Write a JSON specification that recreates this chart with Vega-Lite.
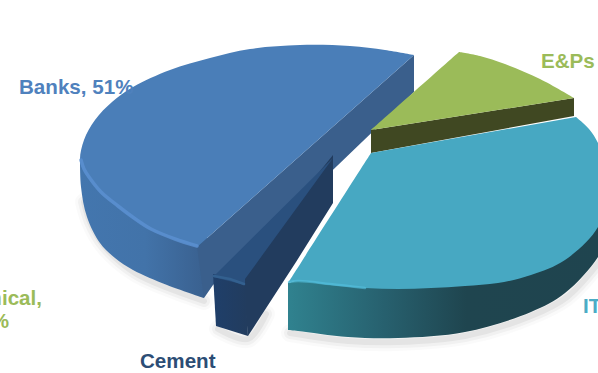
{
"$schema":"https://vega.github.io/schema/vega-lite/v6.json",
"width":598,"height":373,"padding":0,"autosize":"none",
"background":"white",
"view":{"stroke":null},
"datasets":{
"outline":[
{"face":"shadow","part":"banks","i":1,"x":84,"y":202},{"face":"shadow","part":"banks","i":2,"x":90,"y":222},{"face":"shadow","part":"banks","i":3,"x":104,"y":246},{"face":"shadow","part":"banks","i":4,"x":135,"y":273},{"face":"shadow","part":"banks","i":5,"x":168,"y":288},{"face":"shadow","part":"banks","i":6,"x":204,"y":301},
{"face":"shadow","part":"cement","i":1,"x":218,"y":329},{"face":"shadow","part":"cement","i":2,"x":248,"y":339},{"face":"shadow","part":"cement","i":3,"x":266,"y":314},
{"face":"shadow","part":"it","i":1,"x":290,"y":333},{"face":"shadow","part":"it","i":2,"x":348,"y":341},{"face":"shadow","part":"it","i":3,"x":398,"y":342},{"face":"shadow","part":"it","i":4,"x":465,"y":336},{"face":"shadow","part":"it","i":5,"x":531,"y":316},{"face":"shadow","part":"it","i":6,"x":567,"y":297},{"face":"shadow","part":"it","i":7,"x":600,"y":261},

{"face":"banksSide","i":1,"x":80,"y":160},{"face":"banksSide","i":2,"x":81,"y":187},{"face":"banksSide","i":3,"x":87,"y":217},{"face":"banksSide","i":4,"x":100,"y":243},{"face":"banksSide","i":5,"x":115,"y":258},{"face":"banksSide","i":6,"x":133,"y":270},{"face":"banksSide","i":7,"x":167,"y":285},{"face":"banksSide","i":8,"x":204,"y":298},{"face":"banksSide","i":9,"x":204,"y":298},{"face":"banksSide","i":10,"x":210,"y":240},{"face":"banksSide","i":11,"x":210,"y":240},{"face":"banksSide","i":12,"x":110,"y":170},

{"face":"banksCut","i":1,"x":197,"y":247},{"face":"banksCut","i":2,"x":414,"y":55},{"face":"banksCut","i":3,"x":414,"y":92},{"face":"banksCut","i":4,"x":213,"y":285},{"face":"banksCut","i":5,"x":204,"y":298},

{"face":"banksTop","i":1,"x":414,"y":55},{"face":"banksTop","i":2,"x":385,"y":50},{"face":"banksTop","i":3,"x":350,"y":46},{"face":"banksTop","i":4,"x":300,"y":45},{"face":"banksTop","i":5,"x":250,"y":49},{"face":"banksTop","i":6,"x":210,"y":58},{"face":"banksTop","i":7,"x":170,"y":70},{"face":"banksTop","i":8,"x":133,"y":87},{"face":"banksTop","i":9,"x":112,"y":102},{"face":"banksTop","i":10,"x":95,"y":120},{"face":"banksTop","i":11,"x":84,"y":140},{"face":"banksTop","i":12,"x":80,"y":160},{"face":"banksTop","i":13,"x":83,"y":170},{"face":"banksTop","i":14,"x":88,"y":178},{"face":"banksTop","i":15,"x":100,"y":193},{"face":"banksTop","i":16,"x":117,"y":207},{"face":"banksTop","i":17,"x":133,"y":219},{"face":"banksTop","i":18,"x":150,"y":230},{"face":"banksTop","i":19,"x":175,"y":240},{"face":"banksTop","i":20,"x":197,"y":247},

{"face":"banksRim","i":1,"x":81,"y":160},{"face":"banksRim","i":2,"x":84,"y":169},{"face":"banksRim","i":3,"x":89,"y":177},{"face":"banksRim","i":4,"x":101,"y":192},{"face":"banksRim","i":5,"x":118,"y":206},{"face":"banksRim","i":6,"x":134,"y":218},{"face":"banksRim","i":7,"x":151,"y":229},{"face":"banksRim","i":8,"x":175,"y":239},{"face":"banksRim","i":9,"x":197,"y":246},

{"face":"cementInner","i":1,"x":333,"y":155},{"face":"cementInner","i":2,"x":333,"y":203},{"face":"cementInner","i":3,"x":296,"y":262},{"face":"cementInner","i":4,"x":248,"y":336},{"face":"cementInner","i":5,"x":243,"y":284},{"face":"cementInner","i":6,"x":240,"y":270},
{"face":"cementFront","i":1,"x":213,"y":274},{"face":"cementFront","i":2,"x":245,"y":281},{"face":"cementFront","i":3,"x":248,"y":336},{"face":"cementFront","i":4,"x":216,"y":326},
{"face":"cementTop","i":1,"x":333,"y":158},{"face":"cementTop","i":2,"x":245,"y":279},{"face":"cementTop","i":3,"x":245,"y":285},{"face":"cementTop","i":4,"x":213,"y":277},
{"face":"cementRim","i":1,"x":214,"y":276},{"face":"cementRim","i":2,"x":230,"y":279},{"face":"cementRim","i":3,"x":244,"y":284},

{"face":"epCut","i":1,"x":371,"y":130},{"face":"epCut","i":2,"x":574,"y":98},{"face":"epCut","i":3,"x":574,"y":116},{"face":"epCut","i":4,"x":371,"y":153},
{"face":"epTop","i":1,"x":371,"y":130},{"face":"epTop","i":2,"x":459,"y":52},{"face":"epTop","i":3,"x":459,"y":52},{"face":"epTop","i":4,"x":480,"y":56},{"face":"epTop","i":5,"x":505,"y":64},{"face":"epTop","i":6,"x":540,"y":79},{"face":"epTop","i":7,"x":574,"y":98},

{"face":"itSide","i":1,"x":288,"y":283},{"face":"itSide","i":2,"x":288,"y":330},{"face":"itSide","i":3,"x":288,"y":330},{"face":"itSide","i":4,"x":298,"y":331},{"face":"itSide","i":5,"x":348,"y":337},{"face":"itSide","i":6,"x":398,"y":338},{"face":"itSide","i":7,"x":465,"y":332},{"face":"itSide","i":8,"x":531,"y":312},{"face":"itSide","i":9,"x":565,"y":293},{"face":"itSide","i":10,"x":598,"y":257},{"face":"itSide","i":11,"x":612,"y":225},{"face":"itSide","i":12,"x":612,"y":225},{"face":"itSide","i":13,"x":600,"y":190},{"face":"itSide","i":14,"x":400,"y":250},

{"face":"itTop","i":1,"x":576,"y":117},{"face":"itTop","i":2,"x":589,"y":129},{"face":"itTop","i":3,"x":598,"y":143},{"face":"itTop","i":4,"x":606,"y":165},{"face":"itTop","i":5,"x":606,"y":195},{"face":"itTop","i":6,"x":598,"y":227},{"face":"itTop","i":7,"x":565,"y":260},{"face":"itTop","i":8,"x":531,"y":275},{"face":"itTop","i":9,"x":498,"y":283},{"face":"itTop","i":10,"x":465,"y":286},{"face":"itTop","i":11,"x":431,"y":288},{"face":"itTop","i":12,"x":398,"y":289},{"face":"itTop","i":13,"x":365,"y":288},{"face":"itTop","i":14,"x":330,"y":285},{"face":"itTop","i":15,"x":298,"y":281},{"face":"itTop","i":16,"x":288,"y":283},{"face":"itTop","i":17,"x":288,"y":283},{"face":"itTop","i":18,"x":371,"y":153},

{"face":"itRim","i":1,"x":289,"y":282},{"face":"itRim","i":2,"x":298,"y":281},{"face":"itRim","i":3,"x":330,"y":284},{"face":"itRim","i":4,"x":365,"y":288}
],
"labels":[
{"label":"Banks, 51%","x":19,"y":88,"anchor":"Banks"},
{"label":"E&Ps","x":541,"y":62,"anchor":"E&Ps"},
{"label":"IT","x":583,"y":307,"anchor":"IT"},
{"label":"Cement","x":140,"y":362,"anchor":"Cement"}
],
"wrapped":[
{"label":"Chemical,","x":42,"y":299},
{"label":"3%","x":9,"y":322}
]
},
"data":{"name":"outline"},
"encoding":{
"x":{"field":"x","type":"quantitative","scale":{"domain":[0,598],"nice":false,"zero":false},"axis":null},
"y":{"field":"y","type":"quantitative","scale":{"domain":[373,0],"nice":false,"zero":false},"axis":null},
"order":{"field":"i","type":"quantitative"}
},
"layer":[
{"transform":[{"filter":"datum.face==='shadow'"}],"mark":{"type":"line","interpolate":"catmull-rom","stroke":"#000000","strokeWidth":18,"opacity":0.02,"strokeCap":"round","strokeJoin":"round"},"encoding":{"detail":{"field":"part"}}},
{"transform":[{"filter":"datum.face==='shadow'"}],"mark":{"type":"line","interpolate":"catmull-rom","stroke":"#000000","strokeWidth":12,"opacity":0.035,"strokeCap":"round","strokeJoin":"round"},"encoding":{"detail":{"field":"part"}}},
{"transform":[{"filter":"datum.face==='shadow'"}],"mark":{"type":"line","interpolate":"catmull-rom","stroke":"#000000","strokeWidth":6,"opacity":0.05,"strokeCap":"round","strokeJoin":"round"},"encoding":{"detail":{"field":"part"}}},

{"transform":[{"filter":"datum.face==='banksSide'"}],"mark":{"type":"line","interpolate":"catmull-rom","strokeWidth":0,"fill":{"gradient":"linear","x1":0,"y1":0,"x2":1,"y2":0,"stops":[{"offset":0,"color":"#4376ae"},{"offset":0.5,"color":"#4273a9"},{"offset":1,"color":"#395f8d"}]}}},
{"transform":[{"filter":"datum.face==='banksCut'"}],"mark":{"type":"line","strokeWidth":0,"fill":"#3a5f8c"}},
{"transform":[{"filter":"datum.face==='banksTop'"}],"mark":{"type":"line","interpolate":"catmull-rom","strokeWidth":0,"fill":"#4a7eb8"}},
{"transform":[{"filter":"datum.face==='banksRim'"}],"mark":{"type":"line","interpolate":"catmull-rom","stroke":"#5a8fd0","strokeWidth":3.5,"strokeCap":"round","opacity":0.85}},

{"transform":[{"filter":"datum.face==='cementInner'"}],"mark":{"type":"line","strokeWidth":0,"fill":"#223c5e"}},
{"transform":[{"filter":"datum.face==='cementFront'"}],"mark":{"type":"line","strokeWidth":0,"fill":{"gradient":"linear","x1":0,"y1":0,"x2":1,"y2":0,"stops":[{"offset":0,"color":"#1f3f6a"},{"offset":1,"color":"#223c5e"}]}}},
{"transform":[{"filter":"datum.face==='cementTop'"}],"mark":{"type":"line","strokeWidth":0,"fill":"#2a507e"}},
{"transform":[{"filter":"datum.face==='cementRim'"}],"mark":{"type":"line","stroke":"#33608f","strokeWidth":2.5,"strokeCap":"round"}},

{"transform":[{"filter":"datum.face==='epCut'"}],"mark":{"type":"line","strokeWidth":0,"fill":"#404822"}},
{"transform":[{"filter":"datum.face==='epTop'"}],"mark":{"type":"line","interpolate":"catmull-rom","strokeWidth":0,"fill":"#9bbb59"}},

{"transform":[{"filter":"datum.face==='itSide'"}],"mark":{"type":"line","interpolate":"catmull-rom","strokeWidth":0,"fill":{"gradient":"linear","x1":0,"y1":0,"x2":1,"y2":0,"stops":[{"offset":0,"color":"#30828f"},{"offset":0.3,"color":"#27606e"},{"offset":0.55,"color":"#1f454f"},{"offset":1,"color":"#1f444f"}]}}},
{"transform":[{"filter":"datum.face==='itTop'"}],"mark":{"type":"line","interpolate":"catmull-rom","strokeWidth":0,"fill":"#47a8c2"}},
{"transform":[{"filter":"datum.face==='itRim'"}],"mark":{"type":"line","interpolate":"catmull-rom","stroke":"#55c2e0","strokeWidth":2.5,"strokeCap":"round","opacity":0.6}},

{"data":{"name":"labels"},"mark":{"type":"text","font":"Liberation Sans","fontWeight":"bold","fontSize":20.6,"align":"left","baseline":"middle"},
 "encoding":{"order":{"value":null},"text":{"field":"label"},
  "color":{"field":"anchor","type":"nominal","legend":null,"scale":{"domain":["Banks","E&Ps","IT","Cement"],"range":["#4f81bd","#9bbb59","#4bacc6","#2c4d75"]}}}},
{"data":{"name":"wrapped"},"mark":{"type":"text","font":"Liberation Sans","fontWeight":"bold","fontSize":20.6,"align":"right","baseline":"middle","color":"#9bbb59"},
 "encoding":{"order":{"value":null},"text":{"field":"label"}}}
]
}
